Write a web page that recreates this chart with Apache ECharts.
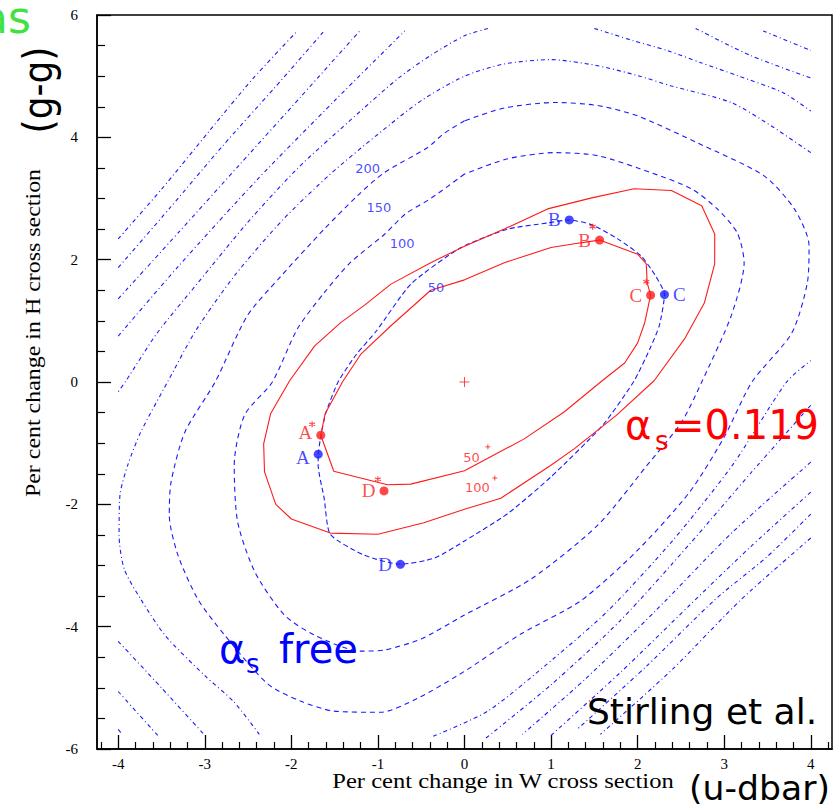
<!DOCTYPE html>
<html>
<head>
<meta charset="utf-8">
<script src="https://cdn.jsdelivr.net/npm/echarts@6/dist/echarts.min.js"></script>
<style>
html,body{margin:0;padding:0;background:#fff;}
#chart{width:835px;height:808px;}
</style>
</head>
<body>
<div id="chart"></div>
<script>
// ---- axis ticks ----
const xTickValues = [-4, -3, -2, -1, 0, 1, 2, 3, 4];
const xMinorTickValues = [-4.2, -3.8, -3.6, -3.4, -3.2, -2.8, -2.6, -2.4, -2.2, -1.8, -1.6, -1.4, -1.2,
  -0.8, -0.6, -0.4, -0.2, 0.2, 0.4, 0.6, 0.8, 1.2, 1.4, 1.6, 1.8, 2.2, 2.4, 2.6, 2.8,
  3.2, 3.4, 3.6, 3.8, 4.2];

// ---- chi^2 contours, alpha_s free (blue, dashed) ----
const blue50 = [[-1.69,-1.18],[-1.66,-0.88],[-1.6,-0.5],[-1.46,0.0],[-1.25,0.45],[-1.02,0.83],[-0.62,1.6],
  [-0.05,2.19],[0.5,2.5],[0.96,2.6],[1.21,2.65],[1.47,2.57],[1.77,2.34],[2.04,2.06],[2.2,1.75],[2.31,1.43],
  [2.25,0.92],[2.14,0.54],[1.96,0.02],[1.6,-0.7],[1.0,-1.55],[0.5,-2.15],[0.0,-2.6],[-0.35,-2.88],
  [-0.74,-2.98],[-1.16,-2.83],[-1.55,-2.49],[-1.62,-1.91],[-1.69,-1.36],[-1.69,-1.18]];
const blue100 = [[0,3.4],[-0.39,3.0],[-0.68,2.75],[-0.92,2.42],[-1.32,1.95],[-1.62,1.46],[-1.93,0.87],
  [-2.22,0],[-2.54,-0.54],[-2.66,-1.36],[-2.62,-2.29],[-2.42,-3.11],[-2.08,-3.81],[-1.73,-4.14],
  [-1.2,-4.4],[-0.92,-4.38],[-0.5,-4.2],[0,-3.81],[0.77,-3.22],[1.54,-2.34],[2.11,-1.36],[2.51,-0.65],
  [2.74,0],[3.08,1.08],[3.23,1.95],[3.15,2.44],[2.92,2.83],[2.62,3.16],[2.16,3.42],[1.54,3.7],
  [1.04,3.75],[0.5,3.65],[0,3.4]];
const blue150 = [[0,4.27],[-0.24,4.06],[-0.43,3.83],[-0.93,3.42],[-1.24,3.04],[-1.62,2.5],[-2.12,1.73],
  [-2.51,1.08],[-2.88,0],[-3.23,-0.82],[-3.39,-1.64],[-3.41,-2.18],[-3.31,-2.83],[-3.08,-3.55],
  [-2.77,-4.14],[-2.27,-4.94],[-1.89,-5.22],[-1.51,-5.38],[-0.97,-5.4],[-0.54,-5.17],[0,-4.73],
  [0.65,-4.12],[1.34,-3.58],[2.0,-2.75],[2.6,-1.8],[3.0,-0.9],[3.32,0],[3.78,0.8],[3.96,1.62],
  [3.98,2.23],[3.81,2.83],[3.46,3.37],[2.69,3.91],[2.0,4.35],[1.54,4.52],[1.04,4.57],[0.46,4.48],[0,4.27]];
const blue200Top = [[4.0,3.75],[3.54,4.19],[3.08,4.57],[2.39,4.84],[2.0,5.01],[1.54,5.17],[1.0,5.27],
  [0.46,5.2],[0,5.0],[-0.5,4.6],[-1.0,4.05],[-1.55,3.4],[-2.1,2.65],[-2.65,1.75],[-3.1,0.85],[-3.43,0],
  [-3.74,-0.82],[-3.89,-1.36],[-3.98,-1.85],[-3.99,-2.5],[-3.93,-3.06],[-3.74,-3.55],[-3.46,-4.14],
  [-3.0,-4.8],[-2.67,-5.22],[-2.37,-5.76]];
const blue200Bottom = [[-0.36,-5.79],[0.27,-5.38],[1.03,-4.52],[1.65,-3.75],[2.4,-2.6],[3.1,-1.35],[3.72,0],[4.0,0.35]];
const blue250UL = [[0.27,5.78],[0,5.66],[-0.39,5.34],[-0.77,4.96],[-1.35,4.24],[-1.93,3.49],[-2.51,2.6],
  [-3.08,1.62],[-3.55,0.8],[-3.91,0.02],[-4.0,-0.16]];
const blue250UR = [[1.5,5.78],[1.95,5.58],[2.34,5.42],[2.73,5.22],[3.15,5.01],[3.68,4.73],[4.0,4.43]];
const blue250LL = [[-4.0,-4.24],[-3.5,-5.0],[-3.01,-5.76]];
const blue250LR = [[4.0,-0.38],[3.3,-1.5],[2.6,-2.65],[1.8,-3.9],[1.0,-4.95],[0.24,-5.83]];
const blue300UL = [[-4.0,0.75],[-3.3,1.9],[-2.4,3.3],[-1.5,4.6],[-0.69,5.74]];
const blue300UR = [[2.67,5.78],[3.3,5.34],[4.0,4.97]];
const blue300LL = [[-4.0,-5.06],[-3.53,-5.8]];
const blue300LR = [[4.0,-1.31],[3.1,-2.45],[2.2,-3.75],[1.4,-4.85],[0.67,-5.76]];
const blue350UL = [[-4.0,1.36],[-3.3,2.45],[-2.6,3.55],[-1.9,4.65],[-1.21,5.74]];
const blue350UR = [[3.45,5.74],[4.0,5.42]];
const blue350LL = [[-4.0,-5.68],[-3.95,-5.77]];
const blue350LR = [[4.0,-1.8],[3.3,-2.7],[2.6,-3.65],[1.8,-4.75],[0.99,-5.79]];
const blue400UL = [[-4.0,1.87],[-3.4,2.85],[-2.8,3.85],[-2.2,4.8],[-1.62,5.74]];
const blue400LR = [[4.0,-2.16],[3.5,-2.85],[2.9,-3.55],[2.1,-4.65],[1.3,-5.68]];
const blue450UL = [[-4.0,2.34],[-3.5,3.15],[-2.95,4.1],[-2.45,4.95],[-1.93,5.74]];
const blue450LR = [[4.0,-2.55],[3.2,-3.55],[2.4,-4.7],[1.57,-5.76]];

// ---- chi^2 contours, alpha_s = 0.119 fixed (red, solid) ----
const red50 = [[-1.66,-0.87],[-1.61,-0.52],[-1.41,0.0],[-1.2,0.45],[-0.85,0.92],[-0.39,1.5],[0,1.67],
  [0.46,1.95],[1.0,2.2],[1.27,2.26],[1.56,2.32],[2.0,2.09],[2.1,1.93],[2.11,1.62],[2.15,1.42],[2.08,0.96],
  [2.0,0.64],[1.85,0.31],[1.59,0.02],[1.15,-0.49],[0.69,-0.93],[0,-1.45],[-0.62,-1.67],[-0.89,-1.68],
  [-1.51,-1.46],[-1.66,-0.87]];
const red100 = [[0,2.22],[-0.39,1.95],[-0.85,1.6],[-1.15,1.26],[-1.43,0.97],[-1.73,0.59],[-2.02,0.02],
  [-2.24,-0.52],[-2.32,-1.01],[-2.31,-1.47],[-2.18,-2.0],[-2.0,-2.24],[-1.55,-2.47],[-1.0,-2.49],
  [-0.47,-2.3],[0,-2.08],[0.42,-1.9],[0.99,-1.37],[1.27,-1.09],[1.75,-0.55],[2.19,0.02],[2.54,0.7],
  [2.77,1.29],[2.89,1.93],[2.89,2.42],[2.74,2.88],[2.39,3.13],[1.96,3.16],[1.47,3.01],[0.96,2.83],
  [0.46,2.5],[0,2.22]];

// ---- PDF set points ----
const pointNames = ['A', 'B', 'C', 'D'];
const bluePoints = [[-1.69,-1.18],[1.21,2.65],[2.31,1.43],[-0.74,-2.98]];
const redPoints = [[-1.66,-0.87],[1.56,2.32],[2.15,1.42],[-0.93,-1.78]];
const redStars = [[-1.76,-0.69],[-1.0,-1.59],[1.48,2.54],[2.1,1.64]];
const redPluses = [[0.27,-1.06],[0.35,-1.57]];
const centre = [[0,0]];

// ---- contour level labels ----
const blueLevelLabels = [[-0.33,1.54,'50'],[-0.72,2.26,'100'],[-0.99,2.85,'150'],[-1.12,3.49,'200']];
const redLevelLabels = [[0.08,-1.23,'50'],[0.15,-1.73,'100']];

const BLUE = '#1a1aff';
const RED = '#ff1a1a';

function contour(data, color, dash, smooth) {
  return {
    type: 'line', data: data, symbol: 'none', showSymbol: false, silent: true,
    smooth: smooth, z: 2, clip: true,
    lineStyle: { color: color, width: 1.1, type: dash }
  };
}

const innerDash = [5, 4];
const outerDash = [4, 3, 1, 3];

const series = [
  contour(blue50, BLUE, [5, 3], 0.2),
  contour(blue100, BLUE, innerDash, 0.25),
  contour(blue150, BLUE, innerDash, 0.25),
  contour(blue200Top, BLUE, outerDash, 0.25),
  contour(blue200Bottom, BLUE, outerDash, 0.25),
  contour(blue250UL, BLUE, outerDash, 0.25),
  contour(blue250UR, BLUE, outerDash, 0.25),
  contour(blue250LL, BLUE, outerDash, 0.25),
  contour(blue250LR, BLUE, outerDash, 0.25),
  contour(blue300UL, BLUE, outerDash, 0.25),
  contour(blue300UR, BLUE, outerDash, 0.25),
  contour(blue300LL, BLUE, outerDash, 0.25),
  contour(blue300LR, BLUE, outerDash, 0.25),
  contour(blue350UL, BLUE, outerDash, 0.25),
  contour(blue350UR, BLUE, outerDash, 0.25),
  contour(blue350LL, BLUE, outerDash, 0.25),
  contour(blue350LR, BLUE, outerDash, 0.25),
  contour(blue400UL, BLUE, outerDash, 0.25),
  contour(blue400LR, BLUE, outerDash, 0.25),
  contour(blue450UL, BLUE, outerDash, 0.25),
  contour(blue450LR, BLUE, outerDash, 0.25),
  contour(red50, RED, 'solid', 0),
  contour(red100, RED, 'solid', 0)
];

// level labels
function levelLabels(list, color) {
  return {
    type: 'scatter', silent: true, z: 4, symbolSize: 0,
    data: list.map(d => ({ value: [d[0], d[1]], name: d[2] })),
    label: { show: true, position: 'inside', formatter: p => p.name, color: color,
      fontFamily: 'DejaVu Sans', fontSize: 13, lineHeight: 12 }
  };
}
series.push(levelLabels(blueLevelLabels, BLUE));
series.push(levelLabels(redLevelLabels, RED));

// PDF set points with letters; the two A letters sit close, nudge them apart
const labelSide = { blue: { A: 'left', B: 'left', C: 'right', D: 'left' },
                    red: { A: 'left', B: 'left', C: 'left', D: 'left' } };
const labelNudge = { blue: { A: [0, 3] }, red: { A: [0, -3] } };
function pointSeries(pts, color, key) {
  return {
    type: 'scatter', silent: true, z: 5, symbol: 'circle', symbolSize: 9,
    itemStyle: { color: color },
    data: pts.map((p, i) => ({
      value: p, name: pointNames[i],
      label: { position: labelSide[key][pointNames[i]], offset: labelNudge[key][pointNames[i]] || [0, 0] }
    })),
    label: { show: true, formatter: p => p.name, color: color, distance: 4,
      fontFamily: 'Liberation Serif', fontSize: 19, lineHeight: 15 }
  };
}
series.push(pointSeries(bluePoints, BLUE, 'blue'));
series.push(pointSeries(redPoints, RED, 'red'));

const starPath = 'path://M0,-10L0,10M-8.7,-5L8.7,5M-8.7,5L8.7,-5';
const plusPath = 'path://M0,-10L0,10M-10,0L10,0';
series.push({ type: 'scatter', silent: true, z: 5, data: redStars, symbol: starPath, symbolSize: 6,
  itemStyle: { color: 'none', borderColor: RED, borderWidth: 1.2 } });
series.push({ type: 'scatter', silent: true, z: 5, data: redPluses, symbol: plusPath, symbolSize: 5,
  itemStyle: { color: 'none', borderColor: RED, borderWidth: 1 } });
series.push({ type: 'scatter', silent: true, z: 5, data: centre, symbol: plusPath, symbolSize: 10,
  itemStyle: { color: 'none', borderColor: RED, borderWidth: 1 } });

const serif = 'Liberation Serif';
const sans = 'DejaVu Sans';

// text anchored at its vertical middle
function txt(x, y, text, size, color, opts) {
  opts = opts || {};
  return {
    type: 'text', x: x, y: y, rotation: opts.rotation || 0, scaleX: opts.scaleX || 1, z: 10,
    style: {
      text: text, fill: color, fontSize: size, fontFamily: opts.family || sans,
      align: opts.align || 'left', textAlign: opts.align || 'left',
      verticalAlign: 'middle', textVerticalAlign: 'middle',
      textShadowColor: opts.shadow || 'transparent', textShadowOffsetX: opts.shadow ? 2 : 0,
      textShadowOffsetY: opts.shadow ? 2 : 0, textShadowBlur: 0
    }
  };
}

const chart = echarts.init(document.getElementById('chart'), null, { renderer: 'svg' });
chart.setOption({
  animation: false,
  backgroundColor: '#fff',
  grid: { left: 97, right: 3, top: 15, bottom: 59, show: true, borderColor: '#000', borderWidth: 1.5,
    backgroundColor: 'transparent' },
  xAxis: [{
    type: 'value', min: -4.245, max: 4.245, position: 'bottom', offset: 0,
    axisLine: { show: true, onZero: false, lineStyle: { color: '#000', width: 1.5 } },
    axisTick: { show: true, inside: true, length: 14, customValues: xTickValues, lineStyle: { color: '#000', width: 1.3 } },
    axisLabel: { show: true, customValues: xTickValues, color: '#000', fontFamily: serif, fontSize: 15, margin: 8, lineHeight: 13 },
    splitLine: { show: false }
  }, {
    type: 'value', min: -4.245, max: 4.245, position: 'bottom', offset: 0,
    axisLine: { show: false, onZero: false },
    axisTick: { show: true, inside: true, length: 7, customValues: xMinorTickValues, lineStyle: { color: '#000', width: 1.2 } },
    axisLabel: { show: false },
    splitLine: { show: false }
  }],
  yAxis: {
    type: 'value', min: -6, max: 6, interval: 2,
    axisLine: { show: true, onZero: false, lineStyle: { color: '#000', width: 1.5 } },
    axisTick: { show: true, inside: true, length: 14, lineStyle: { color: '#000', width: 1.3 } },
    minorTick: { show: true, splitNumber: 4, length: 8, lineStyle: { color: '#000', width: 1.2 } },
    axisLabel: { color: '#000', fontFamily: serif, fontSize: 15, margin: 19 },
    splitLine: { show: false }
  },
  series: series,
  graphic: [
    txt(503, 781, 'Per cent change in W cross section', 21, '#000', { family: serif, align: 'center', scaleX: 1.17 }),
    txt(33, 333, 'Per cent change in H cross section', 21, '#000', { family: serif, align: 'center', rotation: Math.PI / 2, scaleX: 1.14 }),
    txt(38, 90, '(g-g)', 40, '#000', { align: 'center', rotation: Math.PI / 2, scaleX: 0.9 }),
    txt(689, 789, '(u-dbar)', 33, '#000', { scaleX: 1.05 }),
    txt(31, 17, 'as', 44, '#3fe23f', { align: 'right', shadow: '#b8b8b8' }),
    txt(587, 711, 'Stirling et al.', 36, '#000'),
    txt(625, 425, 'α', 40, '#ff0000'),
    txt(655, 441, 's', 26, '#ff0000'),
    txt(671, 425, '=0.119', 40, '#ff0000'),
    txt(219, 649, 'α', 40, '#0000ff'),
    txt(246, 664, 's', 26, '#0000ff'),
    txt(279, 649, 'free', 40, '#0000ff')
  ]
});
</script>
</body>
</html>
